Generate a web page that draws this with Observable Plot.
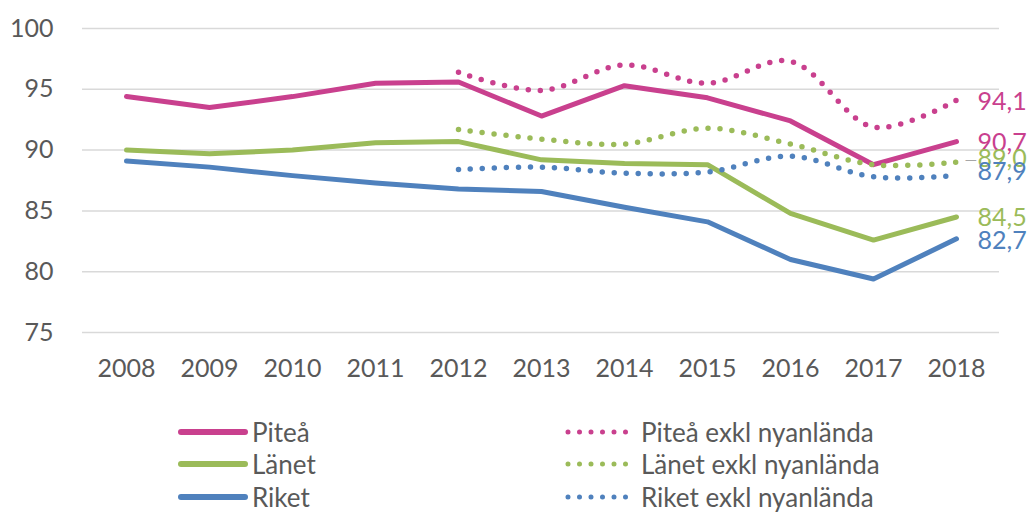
<!DOCTYPE html>
<html>
<head>
<meta charset="utf-8">
<script src="https://cdn.jsdelivr.net/npm/d3@7"></script>
<script src="https://cdn.jsdelivr.net/npm/@observablehq/plot@0.6"></script>
<style>
  body { margin: 0; background: #fff; font-family: Lato, "Open Sans", sans-serif; }
  #wrap { position: relative; width: 1027px; height: 512px; overflow: hidden; }
  #legend { position: absolute; left: 0; top: 0; width: 1027px; height: 512px; pointer-events: none; }
  .item { position: absolute; display: flex; align-items: center; font-size: 26px; color: #595959; line-height: 1; }
  .item svg { margin-right: 4px; }
</style>
</head>
<body>
<div id="wrap"><div id="chart"></div><div id="legend"></div></div>
<script>
const years = ["2008","2009","2010","2011","2012","2013","2014","2015","2016","2017","2018"];
const yearsExkl = ["2012","2013","2014","2015","2016","2017","2018"];

const pitea = [94.4, 93.5, 94.4, 95.5, 95.6, 92.8, 95.3, 94.3, 92.4, 88.8, 90.7];
const lanet = [90.0, 89.7, 90.0, 90.6, 90.7, 89.2, 88.9, 88.8, 84.8, 82.6, 84.5];
const riket = [89.1, 88.6, 87.9, 87.3, 86.8, 86.6, 85.3, 84.1, 81.0, 79.4, 82.7];

const piteaExkl = [96.4, 94.9, 97.0, 95.5, 97.3, 91.9, 94.1];
const lanetExkl = [91.7, 90.9, 90.5, 91.8, 90.5, 88.8, 89.0];
const riketExkl = [88.4, 88.6, 88.1, 88.2, 89.5, 87.8, 87.9];

const yTicks = [75, 80, 85, 90, 95, 100];

const seriesNames = ["Piteå", "Länet", "Riket", "Piteå exkl nyanlända", "Länet exkl nyanlända", "Riket exkl nyanlända"];
const colors = {pink: "#C9408E", green: "#9BBB59", blue: "#4F81BD"};

const solid = [
  {name: seriesNames[0], color: colors.pink, values: pitea},
  {name: seriesNames[1], color: colors.green, values: lanet},
  {name: seriesNames[2], color: colors.blue, values: riket}
];
const dotted = [
  {name: seriesNames[3], color: colors.pink, values: piteaExkl},
  {name: seriesNames[4], color: colors.green, values: lanetExkl},
  {name: seriesNames[5], color: colors.blue, values: riketExkl}
];

const solidRows = solid.flatMap(s => years.map((y, i) => ({year: y, value: s.values[i], name: s.name, color: s.color})));
const dottedRows = dotted.flatMap(s => yearsExkl.map((y, i) => ({year: y, value: s.values[i], name: s.name, color: s.color})));

const endLabels = [
  {value: piteaExkl[6], color: colors.pink, dy: 2},
  {value: pitea[10], color: colors.pink, dy: 1},
  {value: lanetExkl[6], color: colors.green, dy: -3},
  {value: riketExkl[6], color: colors.blue, dy: -4},
  {value: lanet[10], color: colors.green, dy: 1},
  {value: riket[10], color: colors.blue, dy: 2}
];

const fmt = v => v.toFixed(1).replace(".", ",");

const marks = [
  Plot.gridY(yTicks, {stroke: "#d9d9d9", strokeWidth: 1.5, strokeOpacity: 1}),
  Plot.axisY(yTicks, {tickSize: 0, tickPadding: 29, fontSize: 25, fill: "#595959", label: null}),
  Plot.axisX(years, {tickSize: 0, tickPadding: 27, fontSize: 25, fill: "#595959", label: null})
];
for (const s of solid) {
  marks.push(Plot.line(solidRows.filter(d => d.name === s.name), {x: "year", y: "value", stroke: s.color, strokeWidth: 5, strokeLinejoin: "round", strokeLinecap: "round"}));
}
for (const s of dotted) {
  marks.push(Plot.line(dottedRows.filter(d => d.name === s.name), {x: "year", y: "value", stroke: s.color, strokeWidth: 5.5, strokeLinecap: "round", strokeDasharray: "0 12", curve: "catmull-rom"}));
}
marks.push(Plot.text([lanetExkl[6]], {x: () => "2018", y: d => d, text: () => "—", dx: 8, dy: -2, fill: "#a6a6a6", fontSize: 16, textAnchor: "start"}));
for (const l of endLabels) {
  marks.push(Plot.text([l], {x: () => "2018", y: "value", text: d => fmt(d.value), dx: 21, dy: l.dy, fill: l.color, fontSize: 25, textAnchor: "start"}));
}

const chart = Plot.plot({
  width: 1027,
  height: 400,
  marginLeft: 82,
  marginRight: 28,
  marginTop: 28,
  marginBottom: 68,
  style: {fontFamily: "Lato, 'Open Sans', sans-serif", background: "white"},
  x: {type: "point", domain: years, padding: 0.5, label: null},
  y: {domain: [75, 100], label: null},
  marks
});
document.getElementById("chart").appendChild(chart);

// Legend
const legend = document.getElementById("legend");
const legendItems = [
  {name: seriesNames[0], color: colors.pink, dotted: false, x: 178, y: 432},
  {name: seriesNames[1], color: colors.green, dotted: false, x: 178, y: 464},
  {name: seriesNames[2], color: colors.blue, dotted: false, x: 178, y: 497},
  {name: seriesNames[3], color: colors.pink, dotted: true, x: 565, y: 432},
  {name: seriesNames[4], color: colors.green, dotted: true, x: 565, y: 464},
  {name: seriesNames[5], color: colors.blue, dotted: true, x: 565, y: 497}
];
for (const it of legendItems) {
  const div = document.createElement("div");
  div.className = "item";
  div.style.left = it.x + "px";
  div.style.top = (it.y - 15) + "px";
  div.style.height = "30px";
  const dash = it.dotted ? 'stroke-dasharray="0 11.5"' : "";
  const w = it.dotted ? 72 : 70;
  div.innerHTML = `<svg width="${w}" height="10"><line x1="3" y1="5" x2="${w-3}" y2="5" stroke="${it.color}" stroke-width="${it.dotted ? 5 : 6}" stroke-linecap="round" ${dash}/></svg><span>${it.name}</span>`;
  legend.appendChild(div);
}
</script>
</body>
</html>
